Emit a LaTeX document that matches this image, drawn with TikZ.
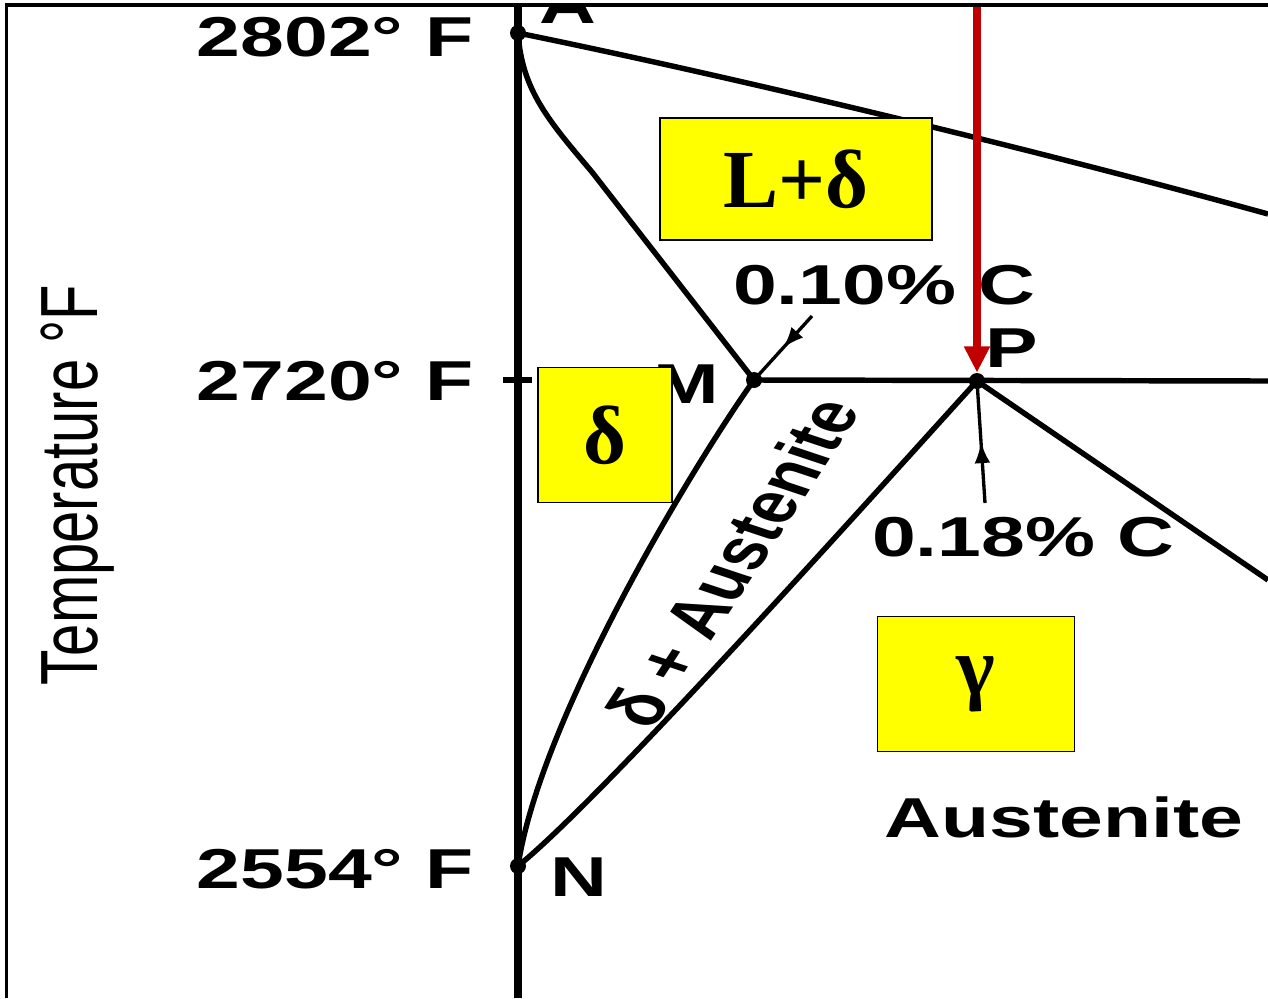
\documentclass[tikz,border=0pt]{standalone}
\usepackage{fontspec}
\usepackage{graphicx}
\usetikzlibrary{arrows.meta, decorations.markings}
\newfontfamily\labfont{Liberation Sans}
\newfontfamily\boxfont{Liberation Serif}
\newcommand{\wide}[1]{\scalebox{1.4}[1]{#1}}
\definecolor{phaseyellow}{HTML}{FFFF00}
\definecolor{arrowred}{HTML}{C00000}

\begin{document}
\begin{tikzpicture}[
  x=0.02cm, y=-0.02cm,
  phase/.style={line width=3.1pt},
  dot/.style={circle, fill, inner sep=0pt, minimum size=0.32cm},
  lbl/.style={font=\labfont\bfseries\fontsize{32}{36}\selectfont, inner sep=0pt},
  region/.style={draw, fill=phaseyellow, line width=1pt, inner sep=0pt,
                 font=\boxfont\bfseries\fontsize{47}{50}\selectfont},
  midarrow/.style={line width=1.9pt, postaction={decorate},
                   decoration={markings, mark=at position 0.5 with {\arrow{Latex[length=12pt,width=9pt]}}}}
]
  \useasboundingbox (0,0) rectangle (1268,998);
  \begin{scope}
  \clip (0,5) rectangle (1268,998);
  % points of the diagram
  \node[dot] (A) at (518,33) {};
  \node[dot] (M) at (754,380) {};
  \node[dot] (P) at (977,381) {};
  \node[dot] (N) at (518,866) {};
  \coordinate (axistop) at (518,0);
  \coordinate (axisbot) at (518,998);
  \coordinate (liqend) at (1268,214);
  \coordinate (horizend) at (1268,381);
  \coordinate (pend) at (1268,580);
  \coordinate (redtop) at (977,0);
  \coordinate (c010tail) at (812,316);
  \coordinate (c018tail) at (985,503);

  % phase lines
  \draw[line width=4pt] (axistop) -- (axisbot);
  \draw[phase] (503,380) -- (532,380);
  \draw[phase] (A.center) .. controls (700,70) and (1000,140) .. (liqend);
  \draw[phase] (A.center) .. controls (522,90) and (548,120) .. (592,172) -- (M.center);
  \draw[phase] (M.center) .. controls (690,470) and (540,720) .. (N.center);
  \draw[phase] (P.center) .. controls (860,510) and (600,800) .. (N.center);
  \draw[phase] (M.center) -- (horizend);
  \draw[phase] (P.center) -- (pend);
  \draw[midarrow] (c010tail) -- (M.center);
  \draw[midarrow] (c018tail) -- (P.center);

  % labels
  \node[lbl] (t2802) at (335,37) {\wide{2802° F}};
  \node[lbl] (t2720) at (335,381) {\wide{2720° F}};
  \node[lbl] (t2554) at (335,869) {\wide{2554° F}};
  \node[lbl, anchor=base] (labA) at (568,23) {\wide{A}};
  \node[lbl] (labM) at (686,384) {\wide{M}};
  \node[lbl] (labP) at (1012,348) {\wide{P}};
  \node[lbl] (labN) at (579,877) {\wide{N}};
  \node[lbl] (c010) at (884,285) {\wide{0.10\% C}};
  \node[lbl] (c018) at (1023,537) {\wide{0.18\% C}};
  \node[lbl] (aust) at (1064,817) {\wide{Austenite}};
  \node[lbl] (band) at (732,562) {\wide{\rotatebox{65}{δ + Austenite}}};
  \node[font=\labfont\fontsize{33}{36}\selectfont, inner sep=0pt] (temp) at (78,485)
    {\wide{\rotatebox{90}{Temperature °F}}};

  % phase fields
  \node[region, minimum width=5.44cm, minimum height=2.44cm] (ldelta) at (796,179) {L+δ};
  \node[region, minimum width=2.68cm, minimum height=2.7cm] (delta) at (605,435) {δ};
  \node[region, minimum width=3.94cm, minimum height=2.7cm] (gamma) at (976,684) {γ};

  \draw[arrowred, line width=4.5pt, -{Triangle[length=15pt,width=14pt]}] (redtop) -- (P.north);
  \end{scope}
  \draw[line width=1.8pt] (6.5,998) |- (1268,5);
\end{tikzpicture}
\end{document}
